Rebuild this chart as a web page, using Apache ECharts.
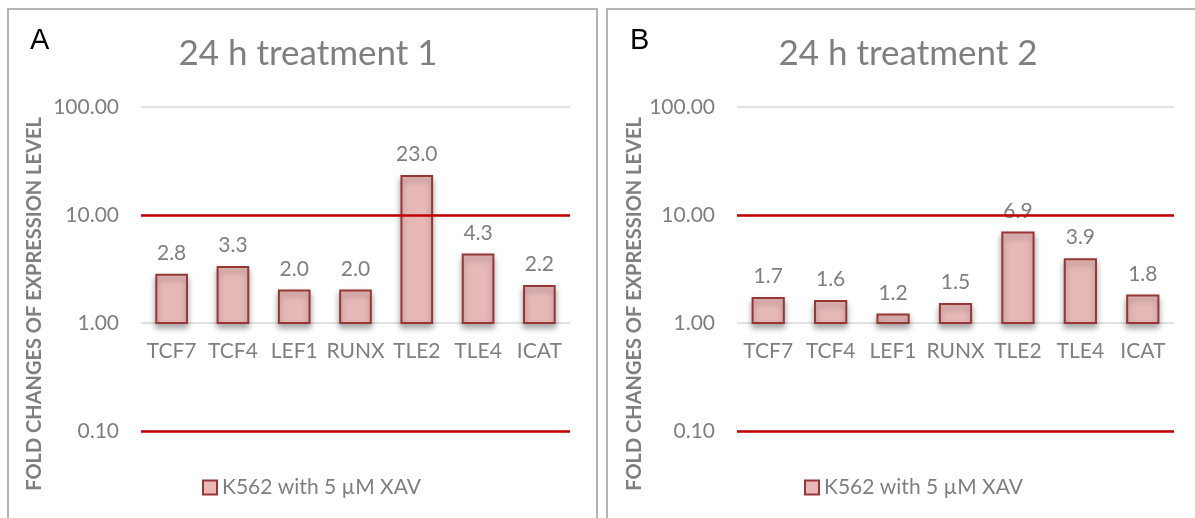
<!DOCTYPE html>
<html>
<head>
<meta charset="utf-8">
<script src="https://cdn.jsdelivr.net/npm/echarts@6/dist/echarts.min.js"></script>
<style>
  html, body { margin: 0; padding: 0; background: #ffffff; }
  #chart { width: 1195px; height: 518px; }
</style>
</head>
<body>
<div id="chart"></div>
<script>
// Genes measured in both panels
const genes = ['TCF7', 'TCF4', 'LEF1', 'RUNX', 'TLE2', 'TLE4', 'ICAT'];
// Fold change of expression, 24 h treatment 1 and 2
const treatment1 = [2.8, 3.3, 2.0, 2.0, 23.0, 4.3, 2.2];
const treatment2 = [1.7, 1.6, 1.2, 1.5, 6.9, 3.9, 1.8];
const panelTitles = ['24 h treatment 1', '24 h treatment 2'];
const panelLetters = ['A', 'B'];
const seriesName = 'K562 with 5 µM XAV';
const yAxisTitle = 'FOLD CHANGES OF EXPRESSION LEVEL';
// Threshold lines and log axis range
const thresholds = [10, 0.1];
const yMin = 0.1, yMax = 100, barBase = 1;

const GRAY = '#7f7f7f';
const FONT = 'Lato, "Open Sans", sans-serif';
const BAR_FILL = '#e6b9b8';
const BAR_EDGE = '#953735';
const RED = '#c00000';

// Layout of the two side-by-side panels
const panels = [
  { values: treatment1, title: panelTitles[0], letter: panelLetters[0],
    frame: { x: 8, y: 9, w: 589, h: 530 },
    grid: { left: 141, top: 107, width: 429, height: 324 },
    titleX: 303, letterX: 30, nameX: 35, legendX: 197 },
  { values: treatment2, title: panelTitles[1], letter: panelLetters[1],
    frame: { x: 607, y: 9, w: 600, h: 530 },
    grid: { left: 737, top: 107, width: 437, height: 324 },
    titleX: 903, letterX: 630, nameX: 635, legendX: 799 }
];

// Bars rise from the baseline value (1.0) on the log axis, with their value printed above
function renderBar(params, api) {
  const i = api.value(0);
  const v = api.value(1);
  const top = api.coord([i, v]);
  const base = api.coord([i, barBase]);
  const w = api.size([1, 1])[0] * 0.5;
  return {
    type: 'group',
    children: [
      {
        type: 'rect',
        shape: { x: top[0] - w / 2, y: top[1], width: w, height: base[1] - top[1] },
        style: {
          fill: BAR_FILL, stroke: BAR_EDGE, lineWidth: 2,
          shadowBlur: 6, shadowOffsetY: 4, shadowColor: 'rgba(0,0,0,0.35)'
        }
      },
      {
        type: 'text',
        x: top[0], y: top[1] - 11,
        style: {
          text: v.toFixed(1), fill: GRAY, fontSize: 21, fontFamily: FONT,
          align: 'center', verticalAlign: 'bottom'
        }
      }
    ]
  };
}

// Fraction of the axis between its minimum and the bar baseline, used to lift the category labels
const baseOffsetRatio = (Math.log10(barBase) - Math.log10(yMin)) / (Math.log10(yMax) - Math.log10(yMin));

const option = {
  animation: false,
  backgroundColor: '#ffffff',
  title: panels.map(p => ({
    text: p.title, left: p.titleX, top: 31, textAlign: 'center',
    textStyle: { color: GRAY, fontSize: 35, fontWeight: 'normal', fontFamily: FONT }
  })),
  legend: panels.map(p => ({
    left: p.legendX, top: 472, itemWidth: 14, itemHeight: 14, selectedMode: false,
    data: [{ name: seriesName, icon: 'rect',
             itemStyle: { color: BAR_FILL, borderColor: BAR_EDGE, borderWidth: 2 } }],
    textStyle: { color: GRAY, fontSize: 21, fontFamily: FONT }
  })),
  grid: panels.map(p => ({ left: p.grid.left, top: p.grid.top, width: p.grid.width, height: p.grid.height })),
  xAxis: panels.map((p, k) => ({
    type: 'category', gridIndex: k, data: genes,
    offset: -p.grid.height * baseOffsetRatio,
    axisLine: { show: false }, axisTick: { show: false },
    axisLabel: { color: GRAY, fontSize: 21, fontFamily: FONT, margin: 18,
                 interval: 0, hideOverlap: false }
  })),
  yAxis: panels.map((p, k) => ({
    type: 'log', logBase: 10, gridIndex: k, min: yMin, max: yMax,
    axisLine: { show: false }, axisTick: { show: false },
    axisLabel: { color: GRAY, fontSize: 21, fontFamily: FONT, margin: 22,
                 formatter: v => Number(v).toFixed(2) },
    splitLine: { lineStyle: { color: '#d9d9d9', width: 1.5 } }
  })),
  series: panels.map((p, k) => ({
    type: 'custom', name: seriesName, xAxisIndex: k, yAxisIndex: k,
    itemStyle: { color: BAR_FILL, borderColor: BAR_EDGE },
    renderItem: renderBar,
    encode: { x: 0, y: 1 },
    data: genes.map((g, i) => [i, p.values[i]]),
    markLine: {
      silent: true, symbol: ['none', 'none'], label: { show: false },
      lineStyle: { color: RED, width: 2.5, type: 'solid' },
      data: thresholds.map(t => ({ yAxis: t }))
    }
  })),
  graphic: panels.flatMap(p => [
    { type: 'rect', silent: true, z: -1,
      shape: { x: p.frame.x, y: p.frame.y, width: p.frame.w, height: p.frame.h },
      style: { fill: 'none', stroke: '#b4b4b4', lineWidth: 2 } },
    { type: 'text', left: p.letterX, top: 26,
      style: { text: p.letter, fill: '#000000', fontSize: 29, fontFamily: '"Liberation Sans", Arial, sans-serif' } },
    { type: 'text', x: p.nameX, y: 304, rotation: Math.PI / 2,
      style: { text: yAxisTitle, fill: GRAY, fontSize: 20, fontWeight: 'bold', fontFamily: FONT,
               align: 'center', verticalAlign: 'middle' } }
  ])
};

const chart = echarts.init(document.getElementById('chart'));
chart.setOption(option);
</script>
</body>
</html>
